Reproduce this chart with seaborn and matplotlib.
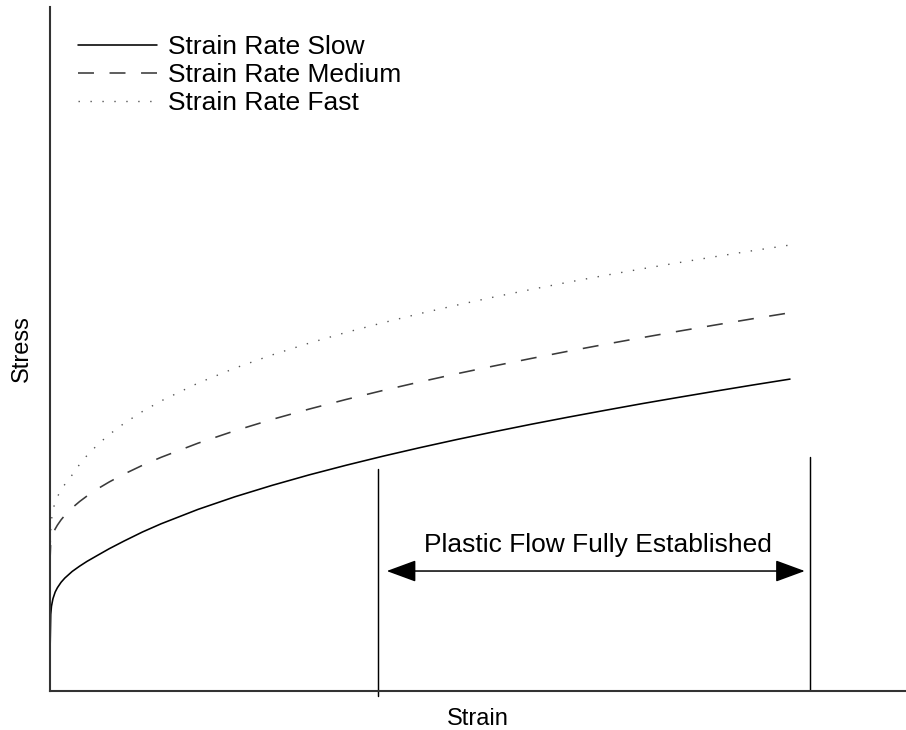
import numpy as np
import pandas as pd
import matplotlib
matplotlib.use("Agg")
import matplotlib.pyplot as plt
import seaborn as sns

# Normalised strain sampling shared by the curves
strain = [0.0, 0.001, 0.002, 0.004, 0.007, 0.01, 0.015, 0.02, 0.03, 0.04, 0.05,
          0.065, 0.08, 0.1, 0.125, 0.15, 0.2, 0.25, 0.3, 0.35, 0.4, 0.45, 0.5,
          0.55, 0.6, 0.65, 0.7, 0.75, 0.8, 0.85, 0.9, 0.95, 1.0]

# Normalised stress for each loading rate
stress_slow = [0.053, 0.112, 0.124, 0.135, 0.1447, 0.151, 0.159, 0.1651, 0.1748, 0.1825, 0.1895,
               0.1988, 0.208, 0.2192, 0.2325, 0.2444, 0.2655, 0.284, 0.3006, 0.3159, 0.330, 0.3433, 0.3558,
               0.3677, 0.379, 0.3899, 0.4003, 0.4103, 0.4201, 0.4294, 0.4385, 0.4474, 0.456]
stress_medium = [0.190, 0.2189, 0.2234, 0.2298, 0.2369, 0.2425, 0.2503, 0.2568, 0.2678, 0.277, 0.2851,
                 0.296, 0.3056, 0.3171, 0.330, 0.3416, 0.3623, 0.3805, 0.397, 0.4121, 0.4262, 0.4394, 0.4519,
                 0.4639, 0.4752, 0.4861, 0.4967, 0.5068, 0.5166, 0.5261, 0.5353, 0.5443, 0.553]
stress_fast = [0.200, 0.235, 0.250, 0.265, 0.276, 0.284, 0.294, 0.302, 0.316, 0.3314, 0.3443,
               0.3608, 0.3749, 0.3912, 0.4087, 0.424, 0.4501, 0.4721, 0.4913, 0.5085, 0.5242, 0.5384, 0.5518,
               0.5642, 0.576, 0.587, 0.5976, 0.6076, 0.6172, 0.6263, 0.6352, 0.6438, 0.652]

series_labels = ["Strain Rate Slow", "Strain Rate Medium", "Strain Rate Fast"]

# Region where plastic flow is fully established
region_start = 0.443
region_end = 1.027
region_start_top = 0.325
region_end_top = 0.342
region_label = "Plastic Flow Fully Established"

sns.set_theme(style="white")
plt.rcParams["font.family"] = ["Liberation Sans", "DejaVu Sans"]
plt.rcParams["lines.scale_dashes"] = False
plt.rcParams["text.color"] = "black"
plt.rcParams["axes.labelcolor"] = "black"

W, H = 906, 730
fig = plt.figure(figsize=(W / 100, H / 100), dpi=100)
ax = fig.add_axes([50 / W, 39 / H, 856 / W, 684 / H])

styles = [
    dict(color="black", linewidth=1.15, linestyle="-"),
    dict(color="#3a3a3a", linewidth=1.15, linestyle=(0, (11.5, 11.2))),
    dict(color="#555555", linewidth=1.0, linestyle=(0, (1.0, 7.6))),
]
for ys, lab, st in zip([stress_slow, stress_medium, stress_fast], series_labels, styles):
    df = pd.DataFrame({"strain": strain, "stress": ys})
    sns.lineplot(data=df, x="strain", y="stress", ax=ax, label=lab, **st)

ax.set_xlim(0, 856 / 740)
ax.set_ylim(0, 1)

# Boundaries of the plastic-flow region
ax.plot([region_start, region_start], [-0.0075, region_start_top], color="black", lw=1.05, clip_on=False)
ax.plot([region_end, region_end], [0.0015, region_end_top], color="black", lw=1.05, clip_on=False)

ax.annotate("", xy=(region_start + 0.012, 0.1754), xytext=(region_end - 0.007, 0.1754),
            arrowprops=dict(arrowstyle="<|-|>,head_length=1.85,head_width=0.68",
                            color="black", lw=1.1, mutation_scale=10,
                            shrinkA=0, shrinkB=0))
ax.text((region_start + region_end) / 2 + 0.006, 0.2135, region_label,
        ha="center", va="center", fontsize=19, color="black")

ax.set_xticks([])
ax.set_yticks([])
ax.set_xlabel("Strain", fontsize=17, labelpad=12)
ax.set_ylabel("Stress", fontsize=17, labelpad=12)
sns.despine(ax=ax)
for side in ("left", "bottom"):
    ax.spines[side].set_color("#333333")
    ax.spines[side].set_linewidth(1.5)

leg = ax.legend(loc="upper left", bbox_to_anchor=(78 / W, 1 - 35 / H),
                bbox_transform=fig.transFigure, frameon=False, fontsize=19,
                handlelength=3.0, handletextpad=0.42, labelspacing=0.15,
                borderpad=0, borderaxespad=0)
for t in leg.get_texts():
    t.set_color("black")

fig.savefig("out.png", dpi=100, facecolor="white")
